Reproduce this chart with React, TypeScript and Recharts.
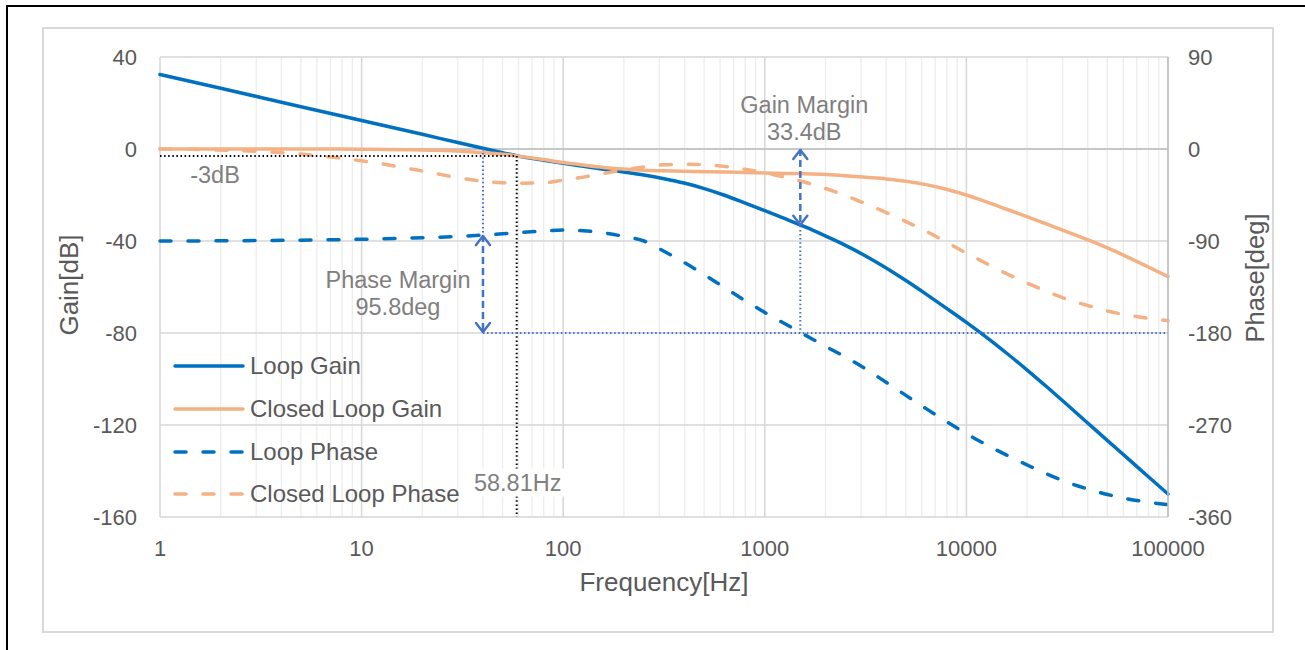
import React from 'react';
import {
  LineChart,
  Line,
  XAxis,
  YAxis,
  CartesianGrid,
  ReferenceLine,
  ReferenceDot,
  Legend,
} from 'recharts';

// ---------- data ----------
const frequencies = [
  1, 2, 5, 10, 20, 30, 40, 50, 60, 80, 100, 125.89, 158.49, 199.53, 251.19, 316.23, 398.11,
  501.19, 630.96, 794.33, 1000, 1258.9, 1584.9, 1995.3, 2511.9, 3162.3, 3981.1, 5011.9, 6309.6,
  7943.3, 10000, 12589, 15849, 19953, 25119, 31623, 39811, 50119, 63096, 79433, 100000,
];
const loopGain = [
  32.4, 26.4, 18.4, 12.4, 6.4, 2.8, 0.3, -1.6, -3.1, -4.9, -6.2, -7.5, -8.8, -10.0, -11.3,
  -12.9, -14.8, -17.2, -20.1, -23.4, -26.8, -30.3, -33.9, -37.8, -41.9, -46.5, -51.6, -57.2,
  -63.1, -69.2, -75.4, -81.9, -88.8, -96.0, -103.5, -111.2, -119.0, -126.8, -134.5, -142.3,
  -150.0,
];
const closedLoopGain = [
  0, 0, 0, -0.1, -0.4, -0.9, -1.6, -2.3, -3.1, -4.6, -5.9, -7.0, -8.0, -8.7, -9.2, -9.5, -9.7,
  -9.85, -10.0, -10.2, -10.4, -10.6, -10.8, -11.1, -11.6, -12.3, -13.0, -14.0, -15.5, -17.5,
  -20.0, -23.0, -26.2, -29.4, -32.7, -36.0, -39.4, -43.0, -47.0, -51.2, -55.5,
];
const loopPhase = [
  -90, -89.8, -89.2, -88.3, -86.8, -85.5, -84.2, -83, -81.8, -80.3, -79.2, -80, -82, -85.5,
  -90, -100, -111, -123, -135.5, -148, -160, -171, -182, -193, -203.5, -215, -228, -241, -254,
  -266.5, -278.5, -289.5, -299.5, -309, -318, -326, -332.5, -338, -342.3, -345.5, -348,
];
const closedLoopPhase = [
  0, -1, -5, -11.5, -21.5, -28, -31.5, -33, -33.5, -33, -30.5, -27.5, -24, -20.5, -17.5, -15.5,
  -14.8, -15.3, -17, -19.8, -23.5, -27.5, -32.5, -38.5, -45.5, -53.5, -62, -71, -80.5, -91,
  -102, -112, -122, -131, -139.5, -147, -153, -158.5, -162.5, -165.5, -168,
];

const seriesNames = ['Loop Gain', 'Closed Loop Gain', 'Loop Phase', 'Closed Loop Phase'];
const seriesKeys = ['lg', 'clg', 'lp', 'clp'];
const seriesColors = ['#0070C0', '#F4B183', '#0070C0', '#F4B183'];
const seriesDashed = [false, false, true, true];
const seriesAxis = ['left', 'left', 'right', 'right'];

const xTicks = [1, 10, 100, 1000, 10000, 100000];
const minorMultipliers = [2, 3, 4, 5, 6, 7, 8, 9];
const gainTicks = [-160, -120, -80, -40, 0, 40];
const phaseTicks = [-360, -270, -180, -90, 0, 90];

// annotation values
const crossoverFreq = 40;
const phaseMarginDeg = 95.8;
const phaseAtCrossover = -84.2;
const phaseCrossoverFreq = 1500;
const gainMarginDb = 33.4;
const cutoffFreq = 58.81;
const cutoffDb = -3;
const phaseLimit = -180;
const gainAtPhaseLimitLine = -80;
const cutoffLabelDb = -145;

const data = frequencies.map((f, i) => ({
  f,
  lg: loopGain[i],
  clg: closedLoopGain[i],
  lp: loopPhase[i],
  clp: closedLoopPhase[i],
}));
const minorFreqs = xTicks.slice(0, -1).flatMap((d) => minorMultipliers.map((m) => m * d));

// ---------- styles ----------
const FONT = '"Liberation Sans", Arial, Helvetica, sans-serif';
const TICK_COLOR = '#595959';
const NOTE_COLOR = '#7F7F7F';
const ARROW_COLOR = '#4472C4';
const DASH = '11 17';

const tickStyle = { fontSize: 22, fill: TICK_COLOR, fontFamily: FONT };

const DoubleArrow = (props: any) => {
  const { x1, y1, x2, y2 } = props;
  const top = Math.min(y1, y2);
  const bot = Math.max(y1, y2);
  const w = 7;
  const h = 10;
  return (
    <g>
      <line x1={x1} y1={top} x2={x2} y2={bot} stroke={ARROW_COLOR} strokeWidth={2.5} strokeDasharray="7 4" />
      <polyline
        points={`${x1 - w},${top + h} ${x1},${top + 1} ${x1 + w},${top + h}`}
        fill="none"
        stroke={ARROW_COLOR}
        strokeWidth={2.5}
        strokeLinejoin="round"
        strokeLinecap="round"
      />
      <polyline
        points={`${x1 - w},${bot - h} ${x1},${bot - 1} ${x1 + w},${bot - h}`}
        fill="none"
        stroke={ARROW_COLOR}
        strokeWidth={2.5}
        strokeLinejoin="round"
        strokeLinecap="round"
      />
    </g>
  );
};

const noteText = (lines: string[], dx: number, dy: number, lineGap: number, bg?: boolean) =>
  (p: any) => {
    const cx = p.cx + dx;
    const cy = p.cy + dy;
    return (
      <g>
        {bg ? <rect x={cx - 49} y={cy - 14} width={98} height={28} fill="#ffffff" /> : null}
        {lines.map((t, i) => (
          <text
            key={i}
            x={cx}
            y={cy + i * lineGap + 8.3}
            textAnchor="middle"
            fontSize={23.5}
            fontFamily={FONT}
            fill={NOTE_COLOR}
          >
            {t}
          </text>
        ))}
      </g>
    );
  };

const LegendContent = () => (
  <div style={{ fontFamily: FONT, fontSize: 24, color: TICK_COLOR }}>
    {seriesNames.map((name, i) => (
      <div key={name} style={{ height: 42.67, display: 'flex', alignItems: 'center' }}>
        <svg width={72} height={10} style={{ display: 'block' }}>
          <line
            x1={2}
            y1={5}
            x2={70}
            y2={5}
            stroke={seriesColors[i]}
            strokeWidth={3.5}
            strokeLinecap="round"
            strokeDasharray={seriesDashed[i] ? DASH : undefined}
          />
        </svg>
        <span style={{ marginLeft: 5, whiteSpace: 'nowrap', lineHeight: 1 }}>{name}</span>
      </div>
    ))}
  </div>
);

export default function App() {
  return (
    <div
      style={{
        position: 'absolute',
        left: 0,
        top: 0,
        width: 1305,
        height: 650,
        background: '#ffffff',
        fontFamily: FONT,
        overflow: 'hidden',
      }}
    >
      <div
        style={{
          position: 'absolute',
          left: 6,
          top: 5,
          width: 1305,
          height: 650,
          borderTop: '2.5px solid #000',
          borderLeft: '2.5px solid #000',
        }}
      />
      <div
        style={{
          position: 'absolute',
          left: 42,
          top: 27,
          width: 1228,
          height: 602,
          border: '2px solid #d9d9d9',
        }}
      />
      <div style={{ position: 'absolute', left: 0, top: 0 }}>
        <LineChart
          width={1305}
          height={650}
          data={data}
          margin={{ top: 57, right: 77, bottom: 93, left: 100 }}
        >
          <CartesianGrid
            yAxisId="left"
            horizontal={false}
            verticalValues={minorFreqs}
            stroke="#ededed"
            strokeWidth={1.3}
          />
          <CartesianGrid yAxisId="left" stroke="#d6d6d6" strokeWidth={1.5} />
          <XAxis
            dataKey="f"
            type="number"
            scale="log"
            domain={[1, 100000]}
            ticks={xTicks}
            axisLine={false}
            tickLine={false}
            tickSize={0}
            tickMargin={23}
            height={40}
            tick={tickStyle}
            interval={0}
            label={(p: any) => {
              const vb = p.viewBox;
              return (
                <text
                  x={vb.x + vb.width / 2}
                  y={vb.y + 65 + 9.3}
                  textAnchor="middle"
                  fontSize={26}
                  fontFamily={FONT}
                  fill={TICK_COLOR}
                >
                  Frequency[Hz]
                </text>
              );
            }}
          />
          <YAxis
            yAxisId="left"
            domain={[-160, 40]}
            ticks={gainTicks}
            width={60}
            axisLine={false}
            tickLine={false}
            tickSize={0}
            tickMargin={23}
            tick={tickStyle}
            interval={0}
            label={(p: any) => {
              const vb = p.viewBox;
              const cx = vb.x - 31;
              const cy = vb.y + vb.height / 2 - 2;
              return (
                <text
                  x={cx}
                  y={cy + 9.3}
                  transform={`rotate(-90 ${cx} ${cy})`}
                  textAnchor="middle"
                  fontSize={26}
                  fontFamily={FONT}
                  fill={TICK_COLOR}
                >
                  Gain[dB]
                </text>
              );
            }}
          />
          <YAxis
            yAxisId="right"
            orientation="right"
            domain={[-360, 90]}
            ticks={phaseTicks}
            width={60}
            axisLine={{ stroke: '#bfbfbf', strokeWidth: 1.5 }}
            tickLine={false}
            tickSize={0}
            tickMargin={20}
            tick={tickStyle}
            interval={0}
            label={(p: any) => {
              const vb = p.viewBox;
              const cx = vb.x + 87;
              const cy = vb.y + vb.height / 2 - 9;
              return (
                <text
                  x={cx}
                  y={cy + 9}
                  transform={`rotate(-90 ${cx} ${cy})`}
                  textAnchor="middle"
                  fontSize={25.5}
                  fontFamily={FONT}
                  fill={TICK_COLOR}
                >
                  Phase[deg]
                </text>
              );
            }}
          />
          <ReferenceLine yAxisId="left" y={0} stroke="#bfbfbf" strokeWidth={1.5} />

          {seriesKeys.map((k, i) => (
            <Line
              key={k}
              yAxisId={seriesAxis[i]}
              dataKey={k}
              name={seriesNames[i]}
              type="monotone"
              stroke={seriesColors[i]}
              strokeWidth={3.5}
              strokeDasharray={seriesDashed[i] ? DASH : undefined}
              strokeLinecap="round"
              dot={false}
              activeDot={false}
              isAnimationActive={false}
            />
          ))}

          {/* -3 dB / cutoff markers */}
          <ReferenceLine
            yAxisId="left"
            segment={[
              { x: 1, y: cutoffDb },
              { x: cutoffFreq, y: cutoffDb },
            ]}
            stroke="#000"
            strokeWidth={2}
            strokeDasharray="1.5 2.6"
          />
          <ReferenceLine
            yAxisId="left"
            segment={[
              { x: cutoffFreq, y: cutoffDb },
              { x: cutoffFreq, y: -160 },
            ]}
            stroke="#000"
            strokeWidth={2}
            strokeDasharray="1.5 2.6"
          />

          {/* phase margin */}
          <ReferenceLine
            yAxisId="right"
            segment={[
              { x: crossoverFreq, y: 0 },
              { x: crossoverFreq, y: phaseAtCrossover },
            ]}
            stroke={ARROW_COLOR}
            strokeWidth={2}
            strokeDasharray="1.5 2.6"
          />
          <ReferenceLine
            yAxisId="right"
            segment={[
              { x: crossoverFreq, y: phaseLimit },
              { x: 100000, y: phaseLimit },
            ]}
            stroke={ARROW_COLOR}
            strokeWidth={2}
            strokeDasharray="1.5 2.6"
          />
          <ReferenceLine
            yAxisId="right"
            segment={[
              { x: crossoverFreq, y: phaseAtCrossover },
              { x: crossoverFreq, y: phaseLimit },
            ]}
            shape={DoubleArrow}
          />

          {/* gain margin */}
          <ReferenceLine
            yAxisId="left"
            segment={[
              { x: phaseCrossoverFreq, y: -gainMarginDb },
              { x: phaseCrossoverFreq, y: gainAtPhaseLimitLine },
            ]}
            stroke={ARROW_COLOR}
            strokeWidth={2}
            strokeDasharray="1.5 2.6"
          />
          <ReferenceLine
            yAxisId="left"
            segment={[
              { x: phaseCrossoverFreq, y: 0 },
              { x: phaseCrossoverFreq, y: -gainMarginDb },
            ]}
            shape={DoubleArrow}
          />

          {/* annotation texts */}
          <ReferenceDot
            yAxisId="left"
            x={phaseCrossoverFreq}
            y={0}
            r={1}
            fill="none"
            stroke="none"
            shape={noteText(['Gain Margin', `${gainMarginDb}dB`], 4, -44, 27)}
          />
          <ReferenceDot
            yAxisId="right"
            x={crossoverFreq}
            y={phaseAtCrossover}
            r={1}
            fill="none"
            stroke="none"
            shape={noteText(['Phase Margin', `${phaseMarginDeg}deg`], -85, 45, 27)}
          />
          <ReferenceDot
            yAxisId="left"
            x={1}
            y={cutoffDb}
            r={1}
            fill="none"
            stroke="none"
            shape={noteText([`${cutoffDb}dB`], 55, 19, 0)}
          />
          <ReferenceDot
            yAxisId="left"
            x={cutoffFreq}
            y={cutoffLabelDb}
            r={1}
            fill="none"
            stroke="none"
            shape={noteText([`${cutoffFreq}Hz`], 1, 0, 0, true)}
          />

          <Legend
            layout="vertical"
            align="center"
            verticalAlign="middle"
            content={LegendContent}
            wrapperStyle={{ position: 'absolute', left: 173, top: 345, width: 'auto', height: 'auto' }}
          />
        </LineChart>
      </div>
    </div>
  );
}
